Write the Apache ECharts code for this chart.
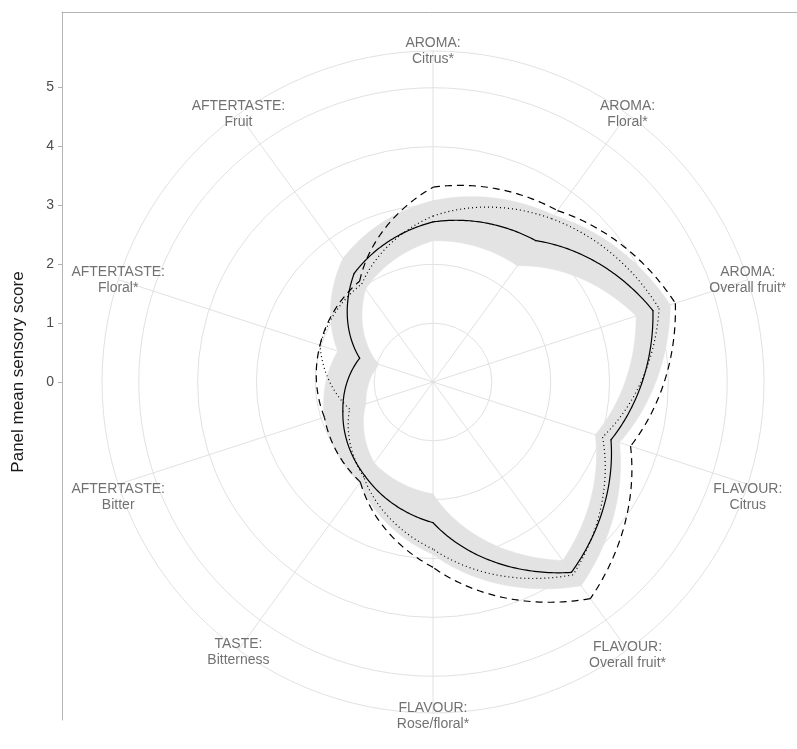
<!DOCTYPE html>
<html>
<head>
<meta charset="utf-8">
<script src="https://cdn.jsdelivr.net/npm/echarts@6/dist/echarts.min.js"></script>
<style>
  html, body { margin: 0; padding: 0; background: #ffffff; }
  #chart { width: 797px; height: 749px; }
</style>
</head>
<body>
<div id="chart"></div>
<script>
// Sensory attributes, clockwise from the top
const categories = [
  'AROMA:\nCitrus*',
  'AROMA:\nFloral*',
  'AROMA:\nOverall fruit*',
  'FLAVOUR:\nCitrus',
  'FLAVOUR:\nOverall fruit*',
  'FLAVOUR:\nRose/floral*',
  'TASTE:\nBitterness',
  'AFTERTASTE:\nBitter',
  'AFTERTASTE:\nFloral*',
  'AFTERTASTE:\nFruit'
];

// Panel mean scores for the three samples
const solidScores  = [2.72, 2.97, 3.93, 3.18, 4.00, 2.39, 1.97, 1.61, 1.31, 2.28];
const dottedScores = [2.82, 3.43, 4.04, 3.03, 4.05, 2.84, 2.00, 1.49, 2.02, 2.06];
const dashedScores = [3.31, 3.60, 4.33, 3.53, 4.55, 3.15, 2.10, 1.94, 2.02, 2.12];

// Shaded interval around the solid profile
const bandLower = [2.40, 2.44, 3.63, 2.90, 3.75, 1.90, 1.70, 1.20, 0.97, 1.95];
const bandUpper = [3.08, 3.50, 4.24, 3.33, 4.28, 2.93, 2.12, 1.94, 1.70, 2.60];

// Score axis ticks
const scoreTicks = [0, 1, 2, 3, 4, 5];

const STEP = 360 / categories.length;
const R_OUTER = 5.625;          // outer ring, where the attribute labels sit
const FONT = "'Liberation Sans', Arial, Helvetica, sans-serif";
const GRID_COLOR = '#dedede';
const FRAME_COLOR = '#b3b3b3';
const TEXT_GREY = '#4d4d4d';
// small vertical nudges of the attribute labels (px)
const LABEL_NUDGE = [0, 0, 0, 13, 5, 3, 2, 13, 0, 0];

// Points along a polar segment where radius changes linearly with angle
function spiral(api, rA, rB, aA, aB) {
  const n = 60;
  const pts = [];
  for (let k = 0; k <= n; k++) {
    const t = k / n;
    pts.push(api.coord([rA + (rB - rA) * t, aA + (aB - aA) * t]));
  }
  return pts;
}

function profileSeries(name, values, dash, cap) {
  return {
    type: 'custom',
    name: name,
    coordinateSystem: 'polar',
    silent: true,
    data: values.map((v, i) => [v, i * STEP]),
    renderItem: function (params, api) {
      const i = params.dataIndex;
      const j = (i + 1) % values.length;
      return {
        type: 'polyline',
        shape: { points: spiral(api, values[i], values[j], i * STEP, (i + 1) * STEP) },
        style: { stroke: '#000000', lineWidth: 1.2, lineDash: dash, lineCap: cap, fill: null }
      };
    }
  };
}

const bandSeries = {
  type: 'custom',
  name: 'interval',
  coordinateSystem: 'polar',
  silent: true,
  data: bandLower.map((v, i) => [v, i * STEP]),
  renderItem: function (params, api) {
    const i = params.dataIndex;
    const j = (i + 1) % bandLower.length;
    const a0 = i * STEP, a1 = (i + 1) * STEP;
    const outer = spiral(api, bandUpper[i], bandUpper[j], a0, a1);
    const inner = spiral(api, bandLower[i], bandLower[j], a0, a1).reverse();
    return {
      type: 'polygon',
      shape: { points: outer.concat(inner) },
      style: { fill: '#e3e3e3', stroke: '#e3e3e3', lineWidth: 0.6 }
    };
  }
};

const labelSeries = {
  type: 'scatter',
  coordinateSystem: 'polar',
  silent: true,
  clip: false,
  symbolSize: 1,
  itemStyle: { color: 'rgba(0,0,0,0)' },
  data: categories.map((c, i) => ({
    value: [R_OUTER, i * STEP],
    label: { offset: [0, LABEL_NUDGE[i]] }
  })),
  label: {
    show: true,
    position: 'inside',
    formatter: p => categories[p.dataIndex],
    color: TEXT_GREY,
    fontFamily: FONT,
    fontSize: 14,
    lineHeight: 16,
    align: 'center',
    verticalAlign: 'middle'
  }
};

const chart = echarts.init(document.getElementById('chart'), null, { renderer: 'canvas' });

chart.setOption({
  animation: false,
  backgroundColor: '#ffffff',
  textStyle: { fontFamily: FONT },
  polar: { center: [433, 382], radius: 331 },
  angleAxis: {
    type: 'value',
    min: 0,
    max: 360,
    interval: STEP,
    startAngle: 90,
    clockwise: true,
    axisLine: { show: false },
    axisTick: { show: false },
    axisLabel: { show: false },
    splitLine: { show: true, lineStyle: { color: GRID_COLOR, width: 0.9 } }
  },
  radiusAxis: {
    type: 'value',
    min: 0,
    max: R_OUTER,
    interval: 1,
    axisLine: { show: false },
    axisTick: { show: false },
    axisLabel: { show: false },
    splitLine: { show: true, lineStyle: { color: GRID_COLOR, width: 0.9 } }
  },
  grid: [
    { left: 62, top: 87, height: 295, width: 700 },
    { left: 62, top: 12, right: 0, bottom: 29 }
  ],
  xAxis: [
    { gridIndex: 0, type: 'value', show: false, min: 0, max: 1 },
    {
      gridIndex: 1, type: 'value', position: 'top', min: 0, max: 1,
      axisLine: { show: true, onZero: false, lineStyle: { color: FRAME_COLOR, width: 1 } },
      axisTick: { show: false }, axisLabel: { show: false }, splitLine: { show: false }
    }
  ],
  yAxis: [
    {
      gridIndex: 0, type: 'value', min: scoreTicks[0], max: scoreTicks[scoreTicks.length - 1], interval: 1,
      axisLine: { show: false },
      axisTick: { show: true, length: 4, lineStyle: { color: FRAME_COLOR } },
      axisLabel: { color: TEXT_GREY, fontSize: 14, margin: 8, fontFamily: FONT },
      splitLine: { show: false }
    },
    {
      gridIndex: 1, type: 'value', min: 0, max: 1,
      axisLine: { show: true, onZero: false, lineStyle: { color: FRAME_COLOR, width: 1 } },
      axisTick: { show: false }, axisLabel: { show: false }, splitLine: { show: false }
    }
  ],
  graphic: [
    {
      type: 'text',
      x: 18,
      y: 372,
      rotation: Math.PI / 2,
      silent: true,
      style: {
        text: 'Panel mean sensory score',
        fill: '#1a1a1a',
        font: "17px 'Liberation Sans', Arial, sans-serif",
        align: 'center',
        verticalAlign: 'middle'
      }
    }
  ],
  series: [
    bandSeries,
    profileSeries('solid', solidScores, null, 'round'),
    profileSeries('dotted', dottedScores, [1, 3], 'butt'),
    profileSeries('dashed', dashedScores, [7, 5], 'butt'),
    labelSeries
  ]
});
</script>
</body>
</html>
